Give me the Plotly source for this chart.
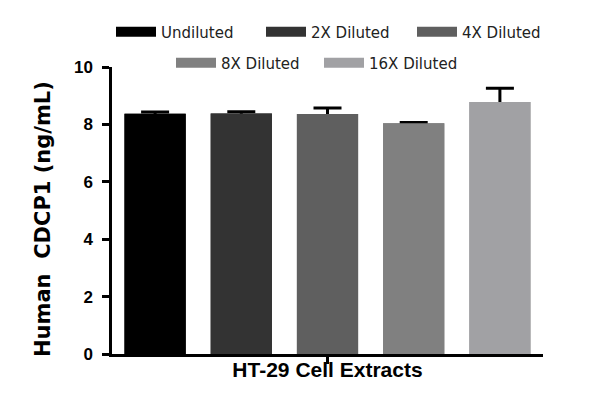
import plotly.graph_objects as go

categories = ['HT-29 Cell Extracts']
series_names = ['Undiluted', '2X Diluted', '4X Diluted', '8X Diluted', '16X Diluted']
means = [8.37, 8.38, 8.36, 8.04, 8.78]
errors = [0.06, 0.06, 0.21, 0.03, 0.48]
colors = ['#000000', '#333333', '#5f5f5f', '#808080', '#a1a1a4']
y_ticks = [0, 2, 4, 6, 8, 10]

# legend entry placement (px from left / top of the figure)
legend_x = [117, 267, 418, 177, 325]
legend_y = [32, 32, 32, 63, 63]

W, H = 600, 407

fig = go.Figure()

# bars with upper error bars
for i, name in enumerate(series_names):
    fig.add_trace(go.Bar(
        x=categories,
        y=[means[i]],
        name=name,
        offsetgroup=str(i),
        marker=dict(color=colors[i], line=dict(width=0)),
        error_y=dict(type='data', array=[errors[i]], arrayminus=[1],
                     symmetric=False, color='black', thickness=3, width=14),
        showlegend=False
    ))

# same bars again on top so only the upper half of the error bar shows
for i, name in enumerate(series_names):
    fig.add_trace(go.Bar(
        x=categories,
        y=[means[i]],
        name=name,
        offsetgroup=str(i),
        marker=dict(color=colors[i], line=dict(width=0)),
        showlegend=False,
        hoverinfo='skip'
    ))

# legend swatches, one legend per entry
legends = {}
for i, name in enumerate(series_names):
    key = 'legend' if i == 0 else 'legend%d' % (i + 1)
    fig.add_trace(go.Scatter(
        x=[None], y=[None],
        mode='lines',
        name=name,
        line=dict(color=colors[i], width=12),
        legend=key
    ))
    legends[key] = dict(
        orientation='h',
        xref='container', yref='container',
        x=(legend_x[i] - 14) / W, y=(H - legend_y[i] + 8) / H,
        xanchor='left', yanchor='middle',
        font=dict(family='DejaVu Sans', size=15, color='#222222'),
        bgcolor='rgba(0,0,0,0)',
        itemwidth=40,
    )

fig.update_layout(
    width=W,
    height=H,
    margin=dict(l=104, r=65, t=59, b=61, autoexpand=False),
    plot_bgcolor='white',
    paper_bgcolor='white',
    barmode='group',
    bargap=0.0,
    bargroupgap=0.29,
    xaxis=dict(
        showline=True, linecolor='black', linewidth=2.5,
        ticks='outside', ticklen=7, tickwidth=2.5, tickcolor='black',
        showticklabels=False,
        title=dict(text='<b>HT-29 Cell Extracts</b>',
                   font=dict(family='Liberation Sans', size=21, color='black'),
                   standoff=0),
        showgrid=False
    ),
    yaxis=dict(
        range=[0, 10],
        tickvals=y_ticks,
        showline=True, linecolor='black', linewidth=2.5,
        ticks='outside', ticklen=7, tickwidth=2.5, tickcolor='black',
        tickfont=dict(family='Liberation Sans', size=17, color='black', weight='bold'),
        ticklabelstandoff=6,
        showgrid=False, zeroline=False
    ),
    annotations=[dict(
        text='<b>Human  CDCP1 (ng/mL)</b>',
        font=dict(family='DejaVu Sans', size=21, color='black'),
        textangle=-90,
        xref='paper', yref='paper',
        x=(35 - 104) / 431, y=(346 - 211) / 287,
        xanchor='center', yanchor='middle',
        showarrow=False
    )],
    **legends
)

fig.write_html('out.html')
